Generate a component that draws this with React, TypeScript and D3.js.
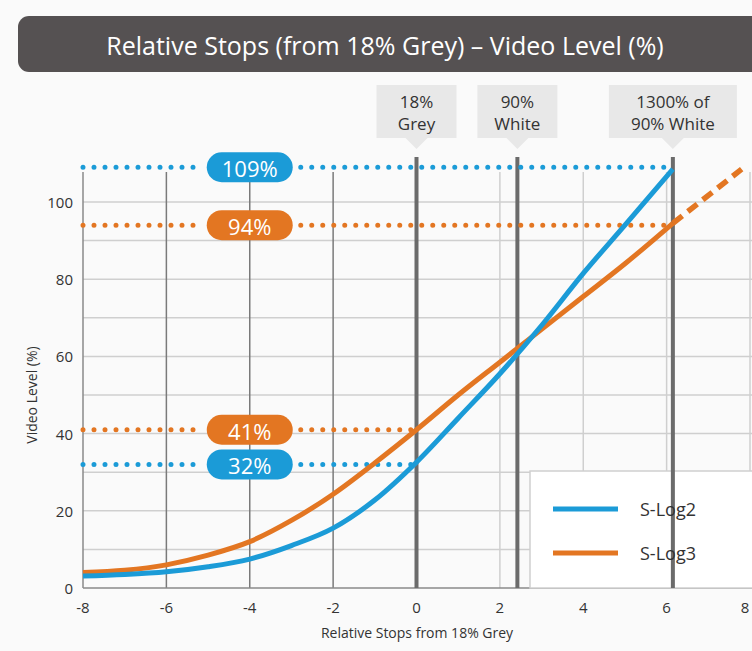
import React from "react";
import * as d3 from "d3";

const stops = [-8, -7, -6, -5, -4, -3, -2, -1, 0, 1, 2, 3, 4, 5, 6.15];
const sLog2 = [3.1, 3.5, 4.2, 5.5, 7.5, 11, 15.5, 22.8, 32.6, 44, 55.5, 68, 81.5, 94, 108.5];
const sLog3 = [4, 4.6, 6, 8.5, 12, 17.5, 24.3, 32.4, 41, 50, 58.5, 67, 75.5, 84, 94.5];
const sLog3ExtStops = [6.15, 7.8];
const sLog3Ext = [94.5, 108.5];

const xTicks = [-8, -6, -4, -2, 0, 2, 4, 6, 8];
const yTicks = [0, 20, 40, 60, 80, 100];
const yGrid = [10, 20, 30, 40, 50, 60, 70, 80, 90, 100];

const refStops = [0, 2.42, 6.15];
const refLabels = [["18%", "Grey"], ["90%", "White"], ["1300% of", "90% White"]];

const markerLevels = [109, 94, 41, 32];
const markerLabels = ["109%", "94%", "41%", "32%"];
const markerSeries = ["S-Log2", "S-Log3", "S-Log3", "S-Log2"];
const markerEnds = [6.15, 6.15, 0, 0];
const markerAt = -4;

const seriesNames = ["S-Log2", "S-Log3"];
const colors: Record<string, string> = { "S-Log2": "#1b9bd7", "S-Log3": "#e37622" };

export default function App() {
  const W = 752, H = 651;
  const x = d3.scaleLinear().domain([-8, 8]).range([83, 750]);
  const y = d3.scaleLinear().domain([0, 100]).range([588, 202]);
  const font = "'Open Sans', 'Noto Sans', sans-serif";
  const top = 172;

  const line = d3.line<[number, number]>().x(d => x(d[0])).y(d => y(d[1])).curve(d3.curveMonotoneX);
  const d2 = line(stops.map((s, i) => [s, sLog2[i]]));
  const d3p = line(stops.map((s, i) => [s, sLog3[i]]));
  const dExt = d3.line<[number, number]>().x(d => x(d[0])).y(d => y(d[1]))(sLog3ExtStops.map((s, i) => [s, sLog3Ext[i]]));

  const pillW = 86, pillH = 30;

  return (
    <svg width={W} height={H} style={{ position: "absolute", left: 0, top: 0, background: "#fafafa" }} fontFamily={font}>
      <rect x={0} y={0} width={W} height={H} fill="#fafafa" />
      {/* title */}
      <rect x={18} y={16} width={760} height={56} rx={11} fill="#555152" />
      <text x={385} y={45} textAnchor="middle" dominantBaseline="central" fill="#fff" fontSize={25}>
        Relative Stops (from 18% Grey) – Video Level (%)
      </text>

      {/* horizontal grid */}
      {yGrid.map(v => (
        <line key={"hg" + v} x1={x(-8)} x2={W} y1={y(v)} y2={y(v)} stroke="#cfcfcf" strokeWidth={1.5} />
      ))}
      {/* vertical grid */}
      {[-6, -4, -2].map(v => (
        <line key={"vg" + v} x1={x(v)} x2={x(v)} y1={top} y2={y(0)} stroke="#7a7a7a" strokeWidth={1.5} />
      ))}
      {[2, 4, 6, 8].map(v => (
        <line key={"vgl" + v} x1={x(v)} x2={x(v)} y1={top} y2={y(0)} stroke="#cfcfcf" strokeWidth={1.5} />
      ))}
      {/* axes */}
      <line x1={x(-8)} x2={x(-8)} y1={top} y2={y(0)} stroke="#8a8a8a" strokeWidth={1.5} />
      <line x1={x(-8)} x2={W} y1={y(0)} y2={y(0)} stroke="#8a8a8a" strokeWidth={1.5} />

      {/* legend box */}
      <rect x={530} y={471} width={240} height={117} fill="#ffffff" stroke="#cfcfcf" strokeWidth={1.5} />

      {/* reference thick lines */}
      {refStops.map((s, i) => (
        <line key={"rl" + i} x1={x(s)} x2={x(s)} y1={157} y2={y(0)} stroke="#6b6b6b" strokeWidth={4} />
      ))}
      {/* reference labels */}
      {refStops.map((s, i) => {
        const cx = x(s);
        const bw = i === 2 ? 128 : 80;
        return (
          <g key={"rb" + i}>
            <rect x={cx - bw / 2} y={85} width={bw} height={53} fill="#e8e8e8" />
            <path d={`M${cx - 11},138 L${cx + 11},138 L${cx},149 Z`} fill="#e8e8e8" />
            <text x={cx} y={101} textAnchor="middle" dominantBaseline="central" fontSize={17} fill="#333">{refLabels[i][0]}</text>
            <text x={cx} y={123} textAnchor="middle" dominantBaseline="central" fontSize={17} fill="#333">{refLabels[i][1]}</text>
          </g>
        );
      })}

      {/* dotted marker lines */}
      {markerLevels.map((v, i) => {
        const c = colors[markerSeries[i]];
        const yy = y(v);
        const pl = x(markerAt) - pillW / 2 - 8;
        const pr = x(markerAt) + pillW / 2 + 8;
        return (
          <g key={"ml" + i}>
            <line x1={x(-8)} x2={pl} y1={yy} y2={yy} stroke={c} strokeWidth={5} strokeLinecap="round" strokeDasharray="0 11" />
            <line x1={pr} x2={x(markerEnds[i])} y1={yy} y2={yy} stroke={c} strokeWidth={5} strokeLinecap="round" strokeDasharray="0 11" />
          </g>
        );
      })}

      {/* curves */}
      <path d={dExt || ""} fill="none" stroke={colors["S-Log3"]} strokeWidth={5.5} strokeDasharray="12 7" />
      <path d={d3p || ""} fill="none" stroke={colors["S-Log3"]} strokeWidth={5} />
      <path d={d2 || ""} fill="none" stroke={colors["S-Log2"]} strokeWidth={5} />

      {/* pills */}
      {markerLevels.map((v, i) => {
        const c = colors[markerSeries[i]];
        const yy = y(v);
        return (
          <g key={"pill" + i}>
            <rect x={x(markerAt) - pillW / 2} y={yy - pillH / 2} width={pillW} height={pillH} rx={15} fill={c} />
            <text x={x(markerAt)} y={yy + 1} textAnchor="middle" dominantBaseline="central" fontSize={22} fill="#fff">{markerLabels[i]}</text>
          </g>
        );
      })}

      {/* tick labels */}
      {yTicks.map(v => (
        <text key={"yt" + v} x={73} y={y(v)} textAnchor="end" dominantBaseline="central" fontSize={15} fill="#333">{v}</text>
      ))}
      {xTicks.map(v => (
        <text key={"xt" + v} x={Math.min(x(v), 745)} y={607} textAnchor="middle" dominantBaseline="central" fontSize={15} fill="#333">{v}</text>
      ))}
      <text x={417} y={632} textAnchor="middle" dominantBaseline="central" fontSize={14} fill="#333">Relative Stops from 18% Grey</text>
      <text transform={`translate(31,395) rotate(-90)`} textAnchor="middle" dominantBaseline="central" fontSize={14} fill="#333">Video Level (%)</text>

      {/* legend */}
      {seriesNames.map((n, i) => (
        <g key={"lg" + n}>
          <line x1={553} x2={618} y1={509 + i * 44} y2={509 + i * 44} stroke={colors[n]} strokeWidth={5} />
          <text x={640} y={509 + i * 44} dominantBaseline="central" fontSize={18} fill="#333">{n}</text>
        </g>
      ))}
    </svg>
  );
}
